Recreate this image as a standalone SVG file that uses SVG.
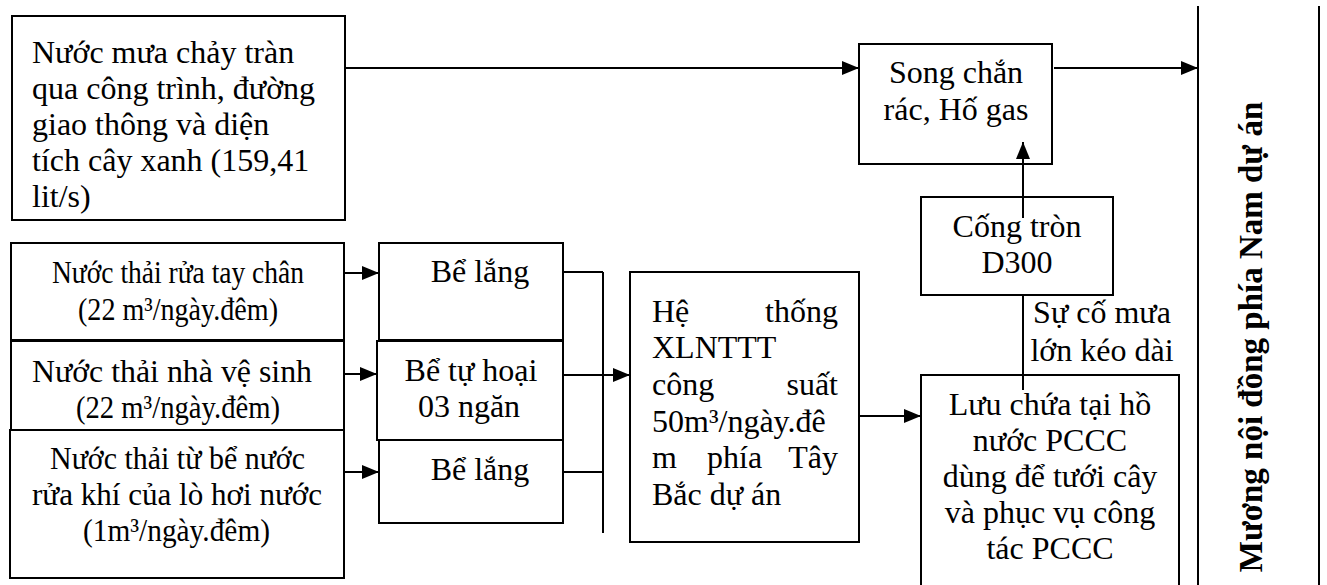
<svg xmlns="http://www.w3.org/2000/svg" width="1327" height="585" viewBox="0 0 1327 585">
<defs>
<style>
.box{fill:#fff;stroke:#000;stroke-width:2}
.t{font-family:"Liberation Serif","Times New Roman",serif;font-size:32px;fill:#000}
.c{text-anchor:middle}
.e{text-anchor:end}
.ln{fill:none;stroke:#000;stroke-width:2}
.v{font-family:"Liberation Serif","Times New Roman",serif;font-size:33px;font-weight:bold;fill:#000;text-anchor:middle}
</style>
<marker id="arr" markerUnits="userSpaceOnUse" markerWidth="18" markerHeight="16" refX="17" refY="8" orient="auto">
<path d="M0,1 L17,8 L0,15 Z" fill="#000"/>
</marker>
</defs>
<rect width="1327" height="585" fill="#fff"/>

<g id="n-mua">
<rect class="box" x="12" y="16" width="333" height="204"/>
<text class="t" x="32" y="63">Nước mưa chảy tràn</text>
<text class="t" x="32" y="99">qua công trình, đường</text>
<text class="t" x="32" y="135">giao thông và diện</text>
<text class="t" x="32" y="171">tích cây xanh (159,41</text>
<text class="t" x="32" y="207">lit/s)</text>
</g>

<g id="n-rua">
<rect class="box" x="11" y="243" width="333" height="97"/>
<text class="t" x="52" y="283" textLength="252" lengthAdjust="spacingAndGlyphs">Nước thải rửa tay chân</text>
<text class="t" x="78" y="320" textLength="200" lengthAdjust="spacingAndGlyphs">(22 m³/ngày.đêm)</text>
</g>

<g id="n-vesinh">
<rect class="box" x="11" y="341" width="333" height="89"/>
<text class="t" x="32" y="382" textLength="280" lengthAdjust="spacingAndGlyphs">Nước thải nhà vệ sinh</text>
<text class="t" x="76" y="418" textLength="204" lengthAdjust="spacingAndGlyphs">(22 m³/ngày.đêm)</text>
</g>

<g id="n-lohoi">
<rect class="box" x="10" y="430" width="334" height="148"/>
<text class="t" x="50" y="469" textLength="255" lengthAdjust="spacingAndGlyphs">Nước thải từ bể nước</text>
<text class="t" x="32" y="505" textLength="290" lengthAdjust="spacingAndGlyphs">rửa khí của lò hơi nước</text>
<text class="t" x="83" y="541" textLength="187" lengthAdjust="spacingAndGlyphs">(1m³/ngày.đêm)</text>
</g>

<g id="n-belang1">
<rect class="box" x="379" y="243" width="184" height="97"/>
<text class="t c" x="480" y="282">Bể lắng</text>
</g>

<g id="n-tuhoai">
<rect class="box" x="377" y="341" width="186" height="99"/>
<text class="t c" x="471" y="381">Bể tự hoại</text>
<text class="t c" x="469" y="417">03 ngăn</text>
</g>

<g id="n-belang2">
<rect class="box" x="379" y="440" width="184" height="83"/>
<text class="t c" x="480" y="480">Bể lắng</text>
</g>

<g id="n-xlnt">
<rect class="box" x="630" y="272" width="229" height="270"/>
<text class="t" x="652" y="322">Hệ</text>
<text class="t e" x="838" y="322">thống</text>
<text class="t" x="652" y="358">XLNTTT</text>
<text class="t" x="652" y="395">công</text>
<text class="t e" x="838" y="395">suất</text>
<text class="t" x="652" y="432">50m³/ngày.đê</text>
<text class="t" x="652" y="468">m</text>
<text class="t" x="707" y="468">phía</text>
<text class="t e" x="838" y="468">Tây</text>
<text class="t" x="652" y="505">Bắc dự án</text>
</g>

<g id="n-song">
<rect class="box" x="859" y="44" width="193" height="120"/>
<text class="t c" x="956" y="83">Song chắn</text>
<text class="t c" x="956" y="120">rác, Hố gas</text>
</g>

<g id="n-cong">
<rect class="box" x="921" y="197" width="192" height="98"/>
<text class="t c" x="1017" y="237">Cống tròn</text>
<text class="t c" x="1017" y="273">D300</text>
</g>

<g id="n-luu">
<rect class="box" x="921" y="375" width="258" height="230"/>
<text class="t c" x="1050" y="415">Lưu chứa tại hồ</text>
<text class="t c" x="1050" y="451">nước PCCC</text>
<text class="t c" x="1050" y="487">dùng để tưới cây</text>
<text class="t c" x="1050" y="523">và phục vụ công</text>
<text class="t c" x="1050" y="559">tác PCCC</text>
</g>

<g id="n-muong">
<line class="ln" x1="1198" y1="6" x2="1198" y2="585"/>
<line class="ln" x1="1319" y1="6" x2="1319" y2="585"/>
<text class="v" transform="translate(1262,337) rotate(-90)">Mương nội đồng phía Nam dự án</text>
</g>

<g id="connectors">
<path class="ln" d="M345,68 H859" marker-end="url(#arr)"/>
<path class="ln" d="M1054,68 H1198" marker-end="url(#arr)"/>
<path class="ln" d="M345,273 H379" marker-end="url(#arr)"/>
<path class="ln" d="M345,374 H377" marker-end="url(#arr)"/>
<path class="ln" d="M345,472 H379" marker-end="url(#arr)"/>
<path class="ln" d="M563,272 H603 M563,472 H603 M603,272 V533"/>
<path class="ln" d="M563,375 H630" marker-end="url(#arr)"/>
<path class="ln" d="M859,416 H921" marker-end="url(#arr)"/>
<path class="ln" d="M1023,390 V295 M1023,218 V142" marker-end="url(#arr)"/>
<text class="t c" x="1102" y="323">Sự cố mưa</text>
<text class="t c" x="1102" y="361">lớn kéo dài</text>
</g>
</svg>
